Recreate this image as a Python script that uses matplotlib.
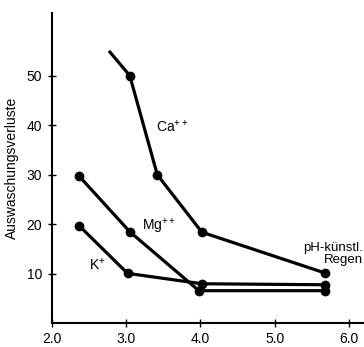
import matplotlib.pyplot as plt

plt.rcParams['font.family'] = ['Liberation Sans', 'DejaVu Sans']
plt.rcParams['mathtext.fontset'] = 'custom'
plt.rcParams['mathtext.rm'] = 'Liberation Sans'

# Data (pH of artificial rain vs. leaching losses)
ca_ph = [2.77, 3.05, 3.42, 4.02, 5.67]
ca_loss = [55, 50, 30, 18.4, 10.2]
mg_ph = [2.37, 3.05, 3.98, 5.67]
mg_loss = [29.7, 18.5, 6.6, 6.6]
k_ph = [2.37, 3.02, 4.02, 5.67]
k_loss = [19.7, 10.1, 8.0, 7.8]

xticks = [2.0, 3.0, 4.0, 5.0, 6.0]
yticks = [10, 20, 30, 40, 50]

fig = plt.figure(figsize=(3.64, 3.47), dpi=100)
ax = fig.add_axes([0.142, 0.068, 0.858, 0.894])

lw = 2.3
ms = 6
# Ca: first point has no marker
ax.plot(ca_ph, ca_loss, color='black', lw=lw, solid_capstyle='butt')
ax.plot(ca_ph[1:], ca_loss[1:], 'o', color='black', ms=ms)
ax.plot(mg_ph, mg_loss, '-o', color='black', lw=lw, ms=ms)
ax.plot(k_ph, k_loss, '-o', color='black', lw=lw, ms=ms)

# Labels on curves
ax.text(3.40, 39.8, 'Ca$^{\\mathrm{++}}$', fontsize=10, va='center', ha='left')
ax.text(3.21, 19.6, 'Mg$^{\\mathrm{++}}$', fontsize=10, va='center', ha='left')
ax.text(2.50, 11.8, 'K$^{\\mathrm{+}}$', fontsize=10, va='center', ha='left')
ax.text(6.19, 14.0, 'pH-künstl.\nRegen', fontsize=9.5, va='center', ha='right',
        multialignment='right', linespacing=1.0)

ax.set_xlim(2.0, 6.2)
ax.set_ylim(0, 62.6)
ax.set_xticks(xticks)
ax.set_xticklabels([f'{t:.1f}' for t in xticks])
ax.set_yticks(yticks)

for s in ['top', 'right']:
    ax.spines[s].set_visible(False)
for s in ['left', 'bottom']:
    ax.spines[s].set_linewidth(1.5)

ax.tick_params(direction='inout', length=6, width=1.0, labelsize=10, pad=4)
ax.tick_params(axis='x', pad=3)
ax.set_ylabel('Auswaschungsverluste', fontsize=10)
ax.yaxis.set_label_coords(-0.105, 0.5)

fig.savefig('out.png', dpi=100)
